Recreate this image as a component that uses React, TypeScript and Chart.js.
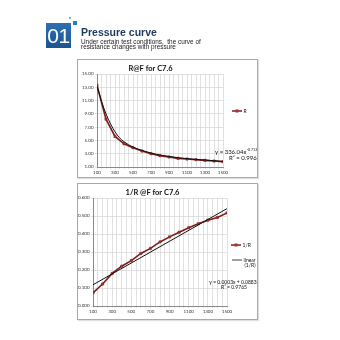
import React, { useEffect, useRef } from 'react';
import { Chart, registerables } from 'chart.js';

Chart.register(...registerables);

// ---------- data ----------
const pressure = [100, 200, 300, 400, 500, 600, 700, 800, 900, 1000, 1100, 1200, 1300, 1400, 1500];
const resistance = [13.3, 8.2, 5.6, 4.5, 3.9, 3.4, 3.0, 2.7, 2.5, 2.3, 2.2, 2.1, 2.0, 1.9, 1.8];
const powerFitX = [100, 150, 200, 250, 300, 350, 400, 500, 600, 700, 800, 900, 1000, 1200, 1500];
const powerFitY = [13.2, 10.9, 9.0, 7.5, 6.3, 5.4, 4.8, 4.0, 3.5, 3.1, 2.8, 2.6, 2.4, 2.15, 1.85];
const conductance = [0.073, 0.122, 0.181, 0.221, 0.252, 0.292, 0.32, 0.356, 0.384, 0.41, 0.435, 0.457, 0.477, 0.492, 0.517];
const linearFitX = [100, 1500];
const linearFitY = [0.118, 0.541];
const xTickLabels = [100, 300, 500, 700, 900, 1100, 1300, 1500];

const FONT = 'Lato, "Liberation Sans", sans-serif';
const RED_LINE = '#7a1c1c';
const RED_POINT = '#a8322d';

type Extra = { kind: 'legendData' | 'legendLine' | 'text' | 'power'; x: number; y: number; text?: string; text2?: string; size?: number; align?: CanvasTextAlign };

const extrasPlugin = {
  id: 'extras',
  afterDraw(chart: any) {
    const items: Extra[] = chart.options.plugins.extras?.items || [];
    const ctx = chart.ctx as CanvasRenderingContext2D;
    ctx.save();
    ctx.textBaseline = 'middle';
    items.forEach((it) => {
      const size = it.size || 5;
      ctx.font = `${size}px ${FONT}`;
      ctx.fillStyle = '#111';
      if (it.kind === 'legendData') {
        ctx.strokeStyle = RED_LINE;
        ctx.lineWidth = 1.5;
        ctx.beginPath();
        ctx.moveTo(it.x, it.y);
        ctx.lineTo(it.x + 10, it.y);
        ctx.stroke();
        ctx.fillStyle = RED_POINT;
        ctx.fillRect(it.x + 3.5, it.y - 1.5, 3, 3);
        ctx.fillStyle = '#111';
        ctx.textAlign = 'left';
        ctx.fillText(it.text || '', it.x + 11.5, it.y);
      } else if (it.kind === 'legendLine') {
        ctx.strokeStyle = '#111';
        ctx.lineWidth = 0.8;
        ctx.beginPath();
        ctx.moveTo(it.x, it.y);
        ctx.lineTo(it.x + 10, it.y);
        ctx.stroke();
        ctx.textAlign = 'left';
        ctx.fillText(it.text || '', it.x + 11.5, it.y);
        if (it.text2) ctx.fillText(it.text2, it.x + 12.5, it.y + 5.5);
      } else if (it.kind === 'power') {
        ctx.textAlign = 'left';
        const base = it.text || '';
        ctx.fillText(base, it.x, it.y);
        const w = ctx.measureText(base).width;
        ctx.font = `${size * 0.6}px ${FONT}`;
        ctx.fillText(it.text2 || '', it.x + w + 0.3, it.y - size * 0.35);
      } else {
        ctx.textAlign = it.align || 'left';
        ctx.fillText(it.text || '', it.x, it.y);
      }
    });
    ctx.restore();
  },
};

function makeOptions(opts: {
  title: string;
  yMin: number; yMax: number; yStep: number; yDigits: number;
  yWidth: number; xHeight: number; right: number;
  items: Extra[];
}): any {
  return {
    animation: false,
    responsive: false,
    maintainAspectRatio: false,
    layout: { padding: { left: 0, right: opts.right, top: 0, bottom: 0 } },
    plugins: {
      legend: { display: false },
      tooltip: { enabled: false },
      title: {
        display: true,
        text: opts.title,
        color: '#111',
        font: { family: FONT, size: 7.5, weight: 'bold', lineHeight: 1.2 },
        padding: { top: 4, bottom: 1 },
      },
      extras: { items: opts.items },
    },
    scales: {
      x: {
        type: 'linear',
        min: 100,
        max: 1500,
        afterFit: (s: any) => { s.height = opts.xHeight; },
        ticks: {
          stepSize: 50,
          autoSkip: false,
          maxRotation: 0,
          padding: 1,
          color: '#333',
          font: { family: FONT, size: 4.5 },
          callback: (v: any) => (xTickLabels.includes(Number(v)) ? String(v) : ''),
        },
        grid: { color: '#d4d4d4', lineWidth: 0.7, tickLength: 2, drawTicks: true },
        border: { color: '#8a8a8a', width: 1 },
      },
      y: {
        type: 'linear',
        min: opts.yMin,
        max: opts.yMax,
        afterFit: (s: any) => { s.width = opts.yWidth; },
        ticks: {
          stepSize: opts.yStep,
          padding: 1.5,
          color: '#333',
          font: { family: FONT, size: 4.5 },
          callback: (v: any) => Number(v).toFixed(opts.yDigits),
        },
        grid: { color: '#d4d4d4', lineWidth: 0.7, tickLength: 2 },
        border: { color: '#8a8a8a', width: 1 },
      },
    },
  };
}

function ChartBox(props: { left: number; top: number; width: number; height: number; build: (c: HTMLCanvasElement) => Chart }) {
  const ref = useRef<HTMLCanvasElement | null>(null);
  const { build } = props;
  useEffect(() => {
    if (!ref.current) return;
    const chart = build(ref.current);
    return () => chart.destroy();
  }, [build]);
  return (
    <div
      style={{
        position: 'absolute',
        left: props.left,
        top: props.top,
        width: props.width,
        height: props.height,
        border: '1px solid #a9a9a9',
        boxSizing: 'border-box',
        background: '#fff',
        boxShadow: '1px 1px 1px rgba(0,0,0,0.12)',
      }}
    >
      <canvas ref={ref} width={props.width - 2} height={props.height - 2} style={{ display: 'block' }} />
    </div>
  );
}

const buildR = (c: HTMLCanvasElement) =>
  new Chart(c, {
    type: 'scatter',
    data: {
      datasets: [
        {
          label: 'Power (R)',
          data: powerFitX.map((x, i) => ({ x, y: powerFitY[i] })),
          showLine: true,
          borderColor: '#111',
          borderWidth: 1,
          pointRadius: 0,
          cubicInterpolationMode: 'monotone',
        },
        {
          label: 'R',
          data: pressure.map((x, i) => ({ x, y: resistance[i] })),
          showLine: true,
          borderColor: RED_LINE,
          borderWidth: 1.6,
          pointStyle: 'rect',
          pointRadius: 1.6,
          backgroundColor: RED_POINT,
          pointBorderColor: RED_LINE,
          pointBorderWidth: 0.5,
        },
      ],
    } as any,
    options: makeOptions({
      title: 'R@F for C7.6',
      yMin: 1, yMax: 15, yStep: 2, yDigits: 2,
      yWidth: 19, xHeight: 10, right: 34,
      items: [
        { kind: 'legendData', x: 154, y: 51, text: 'R' },
        { kind: 'power', x: 137, y: 92, text: 'y = 336.04x', text2: '-0.712', size: 6 },
        { kind: 'text', x: 151, y: 98, text: 'R² = 0.996', size: 6 },
      ],
    }),
    plugins: [extrasPlugin],
  });

const buildG = (c: HTMLCanvasElement) =>
  new Chart(c, {
    type: 'scatter',
    data: {
      datasets: [
        {
          label: 'Linear (1/R)',
          data: linearFitX.map((x, i) => ({ x, y: linearFitY[i] })),
          showLine: true,
          borderColor: '#111',
          borderWidth: 1,
          pointRadius: 0,
        },
        {
          label: '1/R',
          data: pressure.map((x, i) => ({ x, y: conductance[i] })),
          showLine: true,
          borderColor: RED_LINE,
          borderWidth: 1.6,
          pointStyle: 'rect',
          pointRadius: 1.6,
          backgroundColor: RED_POINT,
          pointBorderColor: RED_LINE,
          pointBorderWidth: 0.5,
        },
      ],
    } as any,
    options: makeOptions({
      title: '1/R @F for C7.6',
      yMin: 0, yMax: 0.6, yStep: 0.1, yDigits: 3,
      yWidth: 15, xHeight: 13, right: 30,
      items: [
        { kind: 'legendData', x: 153, y: 61, text: '1/R' },
        { kind: 'legendLine', x: 154, y: 76, text: 'linear', text2: '(1/R)' },
        { kind: 'text', x: 155, y: 98, text: 'y = 0.0003x + 0.0883', size: 5, align: 'center' },
        { kind: 'text', x: 156, y: 103.5, text: 'R² = 0.9765', size: 5, align: 'center' },
      ],
    }),
    plugins: [extrasPlugin],
  });

export default function App() {
  return (
    <div style={{ width: 324, height: 324 }}>
      <div style={{ position: 'fixed', left: 0, top: 0, width: 340, height: 340, background: '#fff' }} />
      {/* header decoration */}
      <div style={{ position: 'absolute', left: 68.5, top: 17, width: 2, height: 2, background: '#7fb0dc' }} />
      <div style={{ position: 'absolute', left: 73, top: 20.5, width: 4, height: 4, background: '#2f7fc0' }} />
      <div
        style={{
          position: 'absolute',
          left: 46,
          top: 23,
          width: 25,
          height: 25,
          background: 'linear-gradient(180deg, #2d6fb4 0%, #1c5590 100%)',
          color: '#fff',
          fontFamily: '"Liberation Sans", Arial, sans-serif',
          fontSize: 21,
          lineHeight: '25px',
          textAlign: 'center',
          letterSpacing: -0.5,
        }}
      >
        01
      </div>
      <div
        style={{
          position: 'absolute',
          left: 81,
          top: 26,
          fontFamily: '"Liberation Sans", Arial, sans-serif',
          fontWeight: 'bold',
          fontSize: 10.5,
          lineHeight: '12px',
          color: '#1d3a5f',
          whiteSpace: 'nowrap',
        }}
      >
        Pressure curve
      </div>
      <div
        style={{
          position: 'absolute',
          left: 81,
          top: 38.5,
          fontFamily: '"Liberation Sans", Arial, sans-serif',
          fontSize: 6.4,
          lineHeight: '5.4px',
          color: '#222',
          whiteSpace: 'nowrap',
        }}
      >
        Under certain test conditions,&nbsp; the curve of
        <br />
        resistance changes with pressure
      </div>
      <ChartBox left={77} top={59} width={181} height={119} build={buildR} />
      <ChartBox left={77} top={183} width={181} height={137} build={buildG} />
    </div>
  );
}
